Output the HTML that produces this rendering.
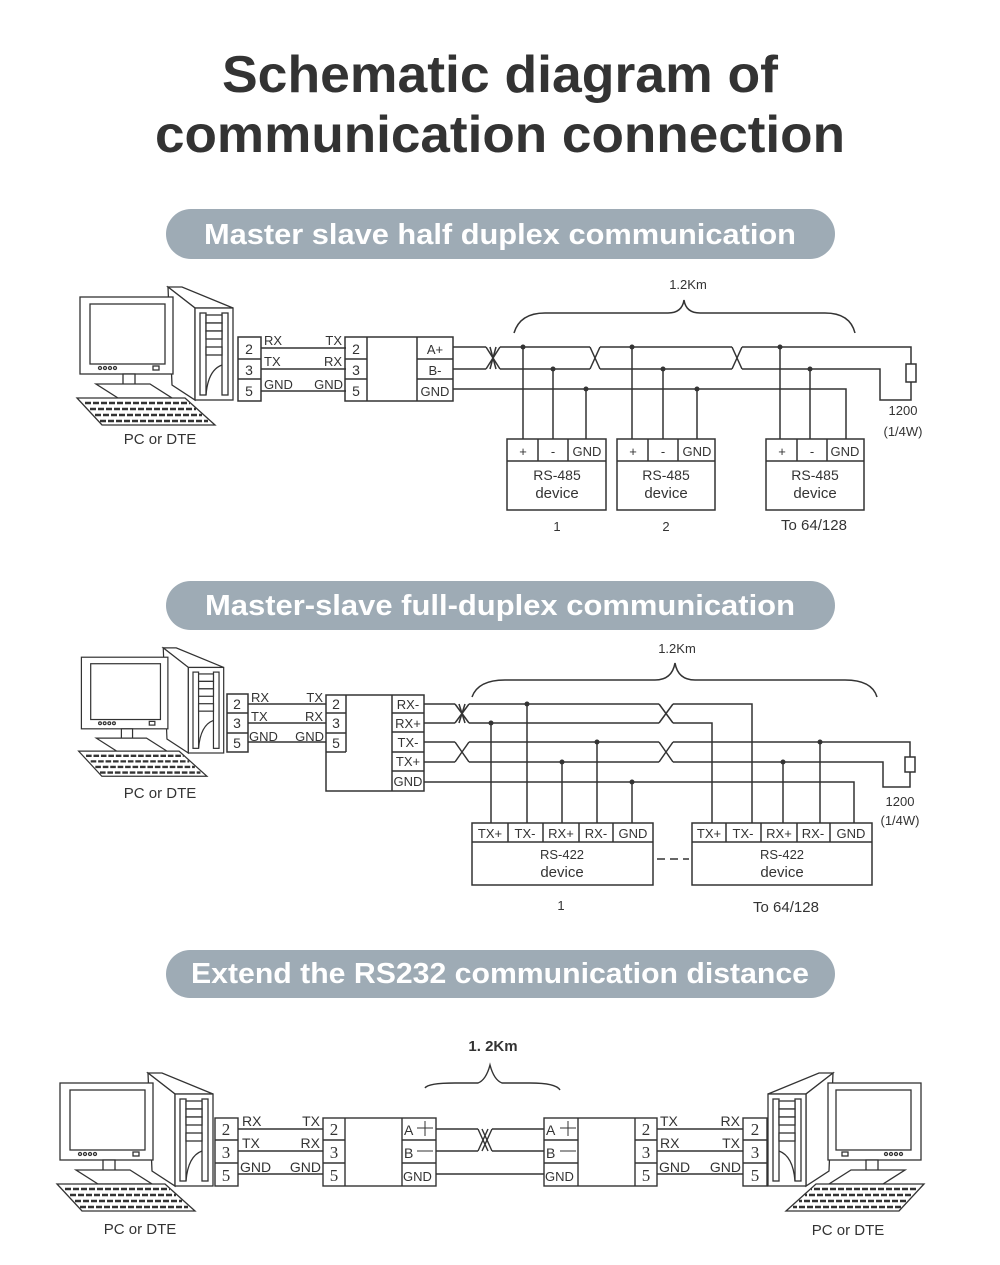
<!DOCTYPE html>
<html><head><meta charset="utf-8"><style>
html,body{margin:0;padding:0;background:#fff}
svg{display:block}
text{font-family:"Liberation Sans",sans-serif;fill:#333}
text.serif{font-family:"Liberation Serif",serif;font-size:17px}
</style></head><body>
<svg width="1000" height="1265" viewBox="0 0 1000 1265" xmlns="http://www.w3.org/2000/svg">
<defs>
<g id="pc" fill="#fff" stroke="#333" stroke-width="1.3">
  <polygon points="168,287 182,287 233,308 195,308"/>
  <polygon points="168,287 195,308 195,400 172,385"/>
  <rect x="195" y="308" width="38" height="92"/>
  <rect x="200" y="313" width="6" height="82"/>
  <rect x="222" y="313" width="6" height="82"/>
  <rect x="206" y="315" width="16" height="8"/><rect x="206" y="323" width="16" height="8"/><rect x="206" y="331" width="16" height="8"/>
  <rect x="206" y="347" width="16" height="8"/>
  <path d="M222 365 Q208 370 206 395" fill="none"/>
  <rect x="80" y="297" width="93" height="77"/>
  <rect x="90" y="304" width="75" height="60"/>
  <circle cx="100" cy="368" r="1.5"/><circle cx="105" cy="368" r="1.5"/><circle cx="110" cy="368" r="1.5"/><circle cx="115" cy="368" r="1.5"/>
  <rect x="153" y="366" width="6" height="4"/>
  <rect x="123" y="374" width="12" height="12"/>
  <polygon points="96,384 150,384 172,398 118,398"/>
  <polygon points="77,398 185,398 215,425 102,425"/>
  <path d="M85 403 H190 M90 409 H196 M95 415 H202 M100 421 H208" stroke-dasharray="6 2" stroke-width="2.5"/>
</g>
</defs>

<text x="500" y="92" text-anchor="middle" font-size="52" font-weight="bold" textLength="556" lengthAdjust="spacingAndGlyphs">Schematic diagram of</text>
<text x="500" y="152" text-anchor="middle" font-size="52" font-weight="bold" textLength="690" lengthAdjust="spacingAndGlyphs">communication connection</text>

<rect x="166" y="209" width="669" height="50" rx="25" fill="#9eabb5"/>
<text x="500" y="244" text-anchor="middle" font-size="29" font-weight="bold" style="fill:#fff" textLength="592" lengthAdjust="spacingAndGlyphs">Master slave half duplex communication</text>
<rect x="166" y="581" width="669" height="49" rx="24.5" fill="#9eabb5"/>
<text x="500" y="615" text-anchor="middle" font-size="29" font-weight="bold" style="fill:#fff" textLength="590" lengthAdjust="spacingAndGlyphs">Master-slave full-duplex communication</text>
<rect x="166" y="950" width="669" height="48" rx="24" fill="#9eabb5"/>
<text x="500" y="983" text-anchor="middle" font-size="29" font-weight="bold" style="fill:#fff" textLength="618" lengthAdjust="spacingAndGlyphs">Extend the RS232 communication distance</text>

<!-- ===== Section 1 ===== -->
<use href="#pc"/>
<text x="160" y="444" text-anchor="middle" font-size="15">PC or DTE</text>
<g fill="none" stroke="#333" stroke-width="1.5">
  <rect x="238" y="337" width="23" height="64"/><path d="M238 359H261M238 379H261"/>
  <path d="M261 348H346M261 369H346M261 391H346"/>
  <rect x="345" y="337" width="108" height="64"/><path d="M367 337V401M417 337V401M345 359H367M345 379H367M417 359H453M417 379H453"/>
  <path d="M453 347H486M500 347H590M600 347H732M742 347H911V364M453 369H486M500 369H590M600 369H732M742 369H880V400H911V382"/>
  <path d="M486 347L500 369M486 369L500 347M490 347L496 369M490 369L496 347"/>
  <path d="M590 347L600 369M590 369L600 347M732 347L742 369M732 369L742 347"/>
  <rect x="906" y="364" width="10" height="18"/>
  <path d="M453 389H846V439"/>
  <path d="M523 347V439M553 369V439M586 389V439M632 347V439M663 369V439M697 389V439M780 347V439M810 369V439"/>
  <rect x="507" y="439" width="99" height="71"/><path d="M507 461H606M538 439V461M568 439V461"/>
  <rect x="617" y="439" width="98" height="71"/><path d="M617 461H715M648 439V461M678 439V461"/>
  <rect x="766" y="439" width="98" height="71"/><path d="M766 461H864M797 439V461M827 439V461"/>
  <path d="M514 333Q520 313 545 313H668Q682 313 684 300Q686 313 700 313H825Q850 313 855 333"/>
</g>
<g fill="#333"><circle cx="523" cy="347" r="2.5"/><circle cx="553" cy="369" r="2.5"/><circle cx="586" cy="389" r="2.5"/><circle cx="632" cy="347" r="2.5"/><circle cx="663" cy="369" r="2.5"/><circle cx="697" cy="389" r="2.5"/><circle cx="780" cy="347" r="2.5"/><circle cx="810" cy="369" r="2.5"/></g>
<g font-size="13">
<text x="264" y="345">RX</text><text x="264" y="366">TX</text><text x="264" y="389">GND</text>
<text x="342" y="345" text-anchor="end">TX</text><text x="342" y="366" text-anchor="end">RX</text><text x="343" y="389" text-anchor="end">GND</text>
<text x="249" y="354" text-anchor="middle" font-size="14">2</text><text x="249" y="375" text-anchor="middle" font-size="14">3</text><text x="249" y="396" text-anchor="middle" font-size="14">5</text>
<text x="356" y="354" text-anchor="middle" font-size="14">2</text><text x="356" y="375" text-anchor="middle" font-size="14">3</text><text x="356" y="396" text-anchor="middle" font-size="14">5</text>
<text x="435" y="354" text-anchor="middle">A+</text><text x="435" y="375" text-anchor="middle">B-</text><text x="435" y="396" text-anchor="middle">GND</text>
<text x="523" y="456" text-anchor="middle">+</text><text x="553" y="456" text-anchor="middle">-</text><text x="587" y="456" text-anchor="middle">GND</text>
<text x="633" y="456" text-anchor="middle">+</text><text x="663" y="456" text-anchor="middle">-</text><text x="697" y="456" text-anchor="middle">GND</text>
<text x="782" y="456" text-anchor="middle">+</text><text x="812" y="456" text-anchor="middle">-</text><text x="845" y="456" text-anchor="middle">GND</text>
<text x="557" y="480" text-anchor="middle" font-size="14">RS-485</text><text x="557" y="498" text-anchor="middle" font-size="15">device</text>
<text x="666" y="480" text-anchor="middle" font-size="14">RS-485</text><text x="666" y="498" text-anchor="middle" font-size="15">device</text>
<text x="815" y="480" text-anchor="middle" font-size="14">RS-485</text><text x="815" y="498" text-anchor="middle" font-size="15">device</text>
<text x="557" y="531" text-anchor="middle">1</text><text x="666" y="531" text-anchor="middle">2</text>
<text x="814" y="530" text-anchor="middle" font-size="15">To 64/128</text>
<text x="688" y="289" text-anchor="middle">1.2Km</text>
<text x="903" y="415" text-anchor="middle">1200</text><text x="903" y="436" text-anchor="middle">(1/4W)</text>
</g>

<!-- ===== Section 2 ===== -->
<use href="#pc" transform="translate(7,381) scale(0.93)"/>
<text x="160" y="798" text-anchor="middle" font-size="15">PC or DTE</text>
<g fill="none" stroke="#333" stroke-width="1.5">
  <rect x="227" y="694" width="21" height="58"/><path d="M227 713H248M227 733H248"/>
  <path d="M248 704H326M248 723H326M248 742H326"/>
  <rect x="326" y="695" width="98" height="96"/><path d="M346 695V752M326 713H346M326 733H346M326 752H346M392 695V791M392 713H424M392 732H424M392 752H424M392 771H424"/>
  <path d="M424 704H455M469 704H659M673 704H752V823"/>
  <path d="M424 723H455M469 723H659M673 723H712V823"/>
  <path d="M424 742H455M469 742H659M673 742H910V757"/>
  <path d="M424 762H455M469 762H659M673 762H883V787H910V772"/>
  <rect x="905" y="757" width="10" height="15"/>
  <path d="M455 704L469 723M455 723L469 704M459 704L465 723M459 723L465 704"/>
  <path d="M659 704L673 723M659 723L673 704M455 742L469 762M455 762L469 742M659 742L673 762M659 762L673 742"/>
  <path d="M424 782H854V823"/>
  <path d="M491 723V823M527 704V823M562 762V823M597 742V823M632 782V823M783 762V823M820 742V823"/>
  <rect x="472" y="823" width="181" height="62"/><path d="M472 842H653M508 823V842M543 823V842M579 823V842M613 823V842"/>
  <rect x="692" y="823" width="180" height="62"/><path d="M692 842H872M726 823V842M761 823V842M797 823V842M830 823V842"/>
  <path d="M657 859H665M670 859H678M683 859H689"/>
  <path d="M472 697Q478 680 505 680H655Q672 680 675 663Q678 680 695 680H845Q872 680 877 697"/>
</g>
<g fill="#333"><circle cx="491" cy="723" r="2.5"/><circle cx="527" cy="704" r="2.5"/><circle cx="562" cy="762" r="2.5"/><circle cx="597" cy="742" r="2.5"/><circle cx="632" cy="782" r="2.5"/><circle cx="783" cy="762" r="2.5"/><circle cx="820" cy="742" r="2.5"/></g>
<g font-size="13">
<text x="251" y="702">RX</text><text x="251" y="721">TX</text><text x="249" y="741">GND</text>
<text x="323" y="702" text-anchor="end">TX</text><text x="323" y="721" text-anchor="end">RX</text><text x="324" y="741" text-anchor="end">GND</text>
<text x="237" y="709" text-anchor="middle" font-size="14">2</text><text x="237" y="728" text-anchor="middle" font-size="14">3</text><text x="237" y="748" text-anchor="middle" font-size="14">5</text>
<text x="336" y="709" text-anchor="middle" font-size="14">2</text><text x="336" y="728" text-anchor="middle" font-size="14">3</text><text x="336" y="748" text-anchor="middle" font-size="14">5</text>
<text x="408" y="709" text-anchor="middle">RX-</text><text x="408" y="728" text-anchor="middle">RX+</text><text x="408" y="747" text-anchor="middle">TX-</text><text x="408" y="766" text-anchor="middle">TX+</text><text x="408" y="786" text-anchor="middle">GND</text>
<text x="490" y="838" text-anchor="middle">TX+</text><text x="525" y="838" text-anchor="middle">TX-</text><text x="561" y="838" text-anchor="middle">RX+</text><text x="596" y="838" text-anchor="middle">RX-</text><text x="633" y="838" text-anchor="middle">GND</text>
<text x="709" y="838" text-anchor="middle">TX+</text><text x="743" y="838" text-anchor="middle">TX-</text><text x="779" y="838" text-anchor="middle">RX+</text><text x="813" y="838" text-anchor="middle">RX-</text><text x="851" y="838" text-anchor="middle">GND</text>
<text x="562" y="859" text-anchor="middle">RS-422</text><text x="562" y="877" text-anchor="middle" font-size="15">device</text>
<text x="782" y="859" text-anchor="middle">RS-422</text><text x="782" y="877" text-anchor="middle" font-size="15">device</text>
<text x="561" y="910" text-anchor="middle">1</text>
<text x="786" y="912" text-anchor="middle" font-size="15">To 64/128</text>
<text x="677" y="653" text-anchor="middle">1.2Km</text>
<text x="900" y="806" text-anchor="middle">1200</text><text x="900" y="825" text-anchor="middle">(1/4W)</text>
</g>

<!-- ===== Section 3 ===== -->
<use href="#pc" transform="translate(-20,786)"/>
<use href="#pc" transform="translate(1001,786) scale(-1,1)"/>
<text x="140" y="1234" text-anchor="middle" font-size="15">PC or DTE</text>
<text x="848" y="1235" text-anchor="middle" font-size="15">PC or DTE</text>
<g fill="none" stroke="#333" stroke-width="1.4">
  <rect x="215" y="1118" width="23" height="68"/><path d="M215 1140H238M215 1163H238"/>
  <path d="M238 1129H323M238 1151H323M238 1174H323"/>
  <rect x="323" y="1118" width="113" height="68"/><path d="M345 1118V1186M323 1140H345M323 1163H345M402 1118V1186M402 1140H436M402 1163H436"/>
  <path d="M436 1129H478M492 1129H544M436 1151H478M492 1151H544M436 1174H544"/>
  <path d="M478 1129L488 1151M478 1151L488 1129M482 1129L492 1151M482 1151L492 1129"/>
  <rect x="544" y="1118" width="113" height="68"/><path d="M578 1118V1186M544 1140H578M544 1163H578M635 1118V1186M635 1140H657M635 1163H657"/>
  <path d="M657 1129H743M657 1151H743M657 1174H743"/>
  <rect x="743" y="1118" width="24" height="68"/><path d="M743 1140H767M743 1163H767"/>
  <path d="M425 1088Q428 1083 455 1083H478Q486 1080 490 1065Q494 1080 502 1083H530Q556 1083 560 1090"/>
  <path d="M417 1128H433M425 1121V1136M417 1151H433M560 1128H576M568 1121V1136M560 1151H576" stroke-width="1"/>
</g>
<g font-size="14">
<text x="242" y="1126">RX</text><text x="242" y="1148">TX</text><text x="240" y="1172">GND</text>
<text x="320" y="1126" text-anchor="end">TX</text><text x="320" y="1148" text-anchor="end">RX</text><text x="321" y="1172" text-anchor="end">GND</text>
<text class="serif" x="226" y="1135" text-anchor="middle">2</text><text class="serif" x="226" y="1158" text-anchor="middle">3</text><text class="serif" x="226" y="1181" text-anchor="middle">5</text>
<text class="serif" x="334" y="1135" text-anchor="middle">2</text><text class="serif" x="334" y="1158" text-anchor="middle">3</text><text class="serif" x="334" y="1181" text-anchor="middle">5</text>
<text x="404" y="1135">A</text><text x="404" y="1158">B</text><text x="403" y="1181" font-size="13">GND</text>
<text x="546" y="1135">A</text><text x="546" y="1158">B</text><text x="545" y="1181" font-size="13">GND</text>
<text class="serif" x="646" y="1135" text-anchor="middle">2</text><text class="serif" x="646" y="1158" text-anchor="middle">3</text><text class="serif" x="646" y="1181" text-anchor="middle">5</text>
<text class="serif" x="755" y="1135" text-anchor="middle">2</text><text class="serif" x="755" y="1158" text-anchor="middle">3</text><text class="serif" x="755" y="1181" text-anchor="middle">5</text>
<text x="660" y="1126">TX</text><text x="660" y="1148">RX</text><text x="659" y="1172">GND</text>
<text x="740" y="1126" text-anchor="end">RX</text><text x="740" y="1148" text-anchor="end">TX</text><text x="741" y="1172" text-anchor="end">GND</text>
<text x="493" y="1051" text-anchor="middle" font-size="15" font-weight="bold">1. 2Km</text>
</g>
</svg>
</body></html>
